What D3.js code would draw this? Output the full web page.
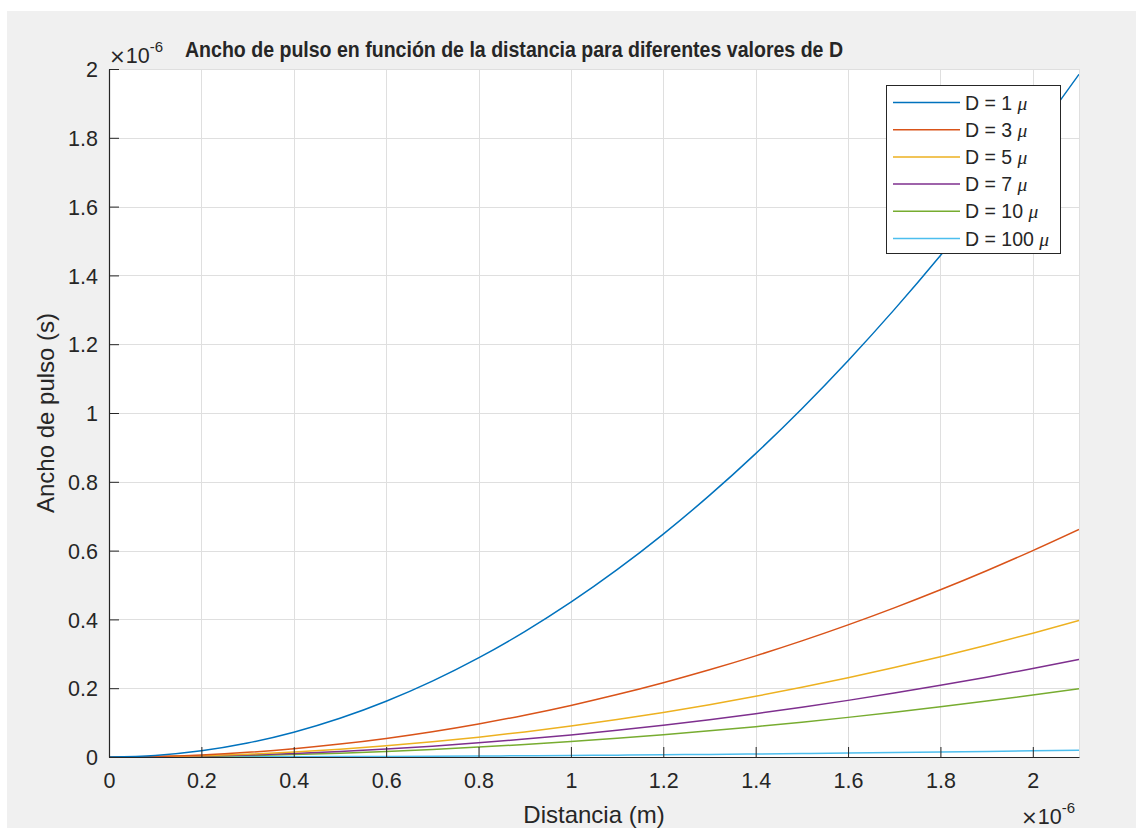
<!DOCTYPE html>
<html>
<head>
<meta charset="utf-8">
<script src="https://cdn.jsdelivr.net/npm/d3@7/dist/d3.min.js"></script>
<style>
  html, body { margin: 0; padding: 0; background: #ffffff; }
  svg { display: block; }
  text { font-family: "Liberation Sans", Arial, Helvetica, sans-serif; fill: #262626; }
</style>
</head>
<body>
<svg id="chart" width="1136" height="830"></svg>
<script>
// Distance samples (×1e-6 m)
const distance = [0, 0.1, 0.2, 0.3, 0.4, 0.5, 0.6, 0.7, 0.8, 0.9, 1.0,
                  1.1, 1.2, 1.3, 1.4, 1.5, 1.6, 1.7, 1.8, 1.9, 2.0, 2.1];

// Pulse width (×1e-6 s) for each dispersion value D
const widthD1   = [0, 0.0045, 0.018, 0.0405, 0.072, 0.1125, 0.162, 0.2205, 0.288, 0.3645, 0.45,
                   0.5445, 0.648, 0.7605, 0.882, 1.0125, 1.152, 1.3005, 1.458, 1.6245, 1.80, 1.9845];
const widthD3   = [0, 0.0015, 0.006, 0.0135, 0.024, 0.0375, 0.054, 0.0735, 0.096, 0.1215, 0.15,
                   0.1815, 0.216, 0.2535, 0.294, 0.3375, 0.384, 0.4335, 0.486, 0.5415, 0.60, 0.6615];
const widthD5   = [0, 0.0009, 0.0036, 0.0081, 0.0144, 0.0225, 0.0324, 0.0441, 0.0576, 0.0729, 0.09,
                   0.1089, 0.1296, 0.1521, 0.1764, 0.2025, 0.2304, 0.2601, 0.2916, 0.3249, 0.36, 0.3969];
const widthD7   = [0, 0.0006, 0.0026, 0.0058, 0.0103, 0.0161, 0.0231, 0.0315, 0.0411, 0.0521, 0.0643,
                   0.0778, 0.0926, 0.1086, 0.126, 0.1446, 0.1646, 0.1858, 0.2083, 0.2321, 0.2571, 0.2835];
const widthD10  = [0, 0.00045, 0.0018, 0.00405, 0.0072, 0.01125, 0.0162, 0.02205, 0.0288, 0.03645, 0.045,
                   0.05445, 0.0648, 0.07605, 0.0882, 0.10125, 0.1152, 0.13005, 0.1458, 0.16245, 0.18, 0.19845];
const widthD100 = [0, 0.000045, 0.00018, 0.000405, 0.00072, 0.001125, 0.00162, 0.002205, 0.00288, 0.003645, 0.0045,
                   0.005445, 0.00648, 0.007605, 0.00882, 0.010125, 0.01152, 0.013005, 0.01458, 0.016245, 0.018, 0.019845];

const seriesNames = ["D = 1", "D = 3", "D = 5", "D = 7", "D = 10", "D = 100"];
const seriesValues = [widthD1, widthD3, widthD5, widthD7, widthD10, widthD100];
const seriesColors = ["#0072BD", "#D95319", "#EDB120", "#7E2F8E", "#77AC30", "#4DBEEE"];

const xTicks = [0, 0.2, 0.4, 0.6, 0.8, 1, 1.2, 1.4, 1.6, 1.8, 2];
const yTicks = [0, 0.2, 0.4, 0.6, 0.8, 1, 1.2, 1.4, 1.6, 1.8, 2];

const titleText = "Ancho de pulso en función de la distancia para diferentes valores de D";
const xLabelText = "Distancia (m)";
const yLabelText = "Ancho de pulso (s)";

const svg = d3.select("#chart");

// figure background
svg.append("rect").attr("x", 7).attr("y", 11).attr("width", 1129).attr("height", 817)
  .attr("fill", "#f0f0f0");

const plot = { left: 109, top: 69, right: 1079, bottom: 757 };

const x = d3.scaleLinear().domain([0, 2.1]).range([plot.left, plot.right]);
const y = d3.scaleLinear().domain([0, 2]).range([plot.bottom, plot.top]);

// axes area
svg.append("rect")
  .attr("x", plot.left).attr("y", plot.top)
  .attr("width", plot.right - plot.left).attr("height", plot.bottom - plot.top)
  .attr("fill", "#ffffff");

// grid
const grid = svg.append("g").attr("stroke", "#dfdfdf").attr("stroke-width", 1);
grid.selectAll("line.gx").data(xTicks.concat([2.1])).join("line")
  .attr("x1", d => Math.round(x(d)) + 0.5).attr("x2", d => Math.round(x(d)) + 0.5)
  .attr("y1", plot.top).attr("y2", plot.bottom);
grid.selectAll("line.gy").data(yTicks).join("line")
  .attr("y1", d => Math.round(y(d)) + 0.5).attr("y2", d => Math.round(y(d)) + 0.5)
  .attr("x1", plot.left).attr("x2", plot.right);

// curves
svg.append("defs").append("clipPath").attr("id", "clip")
  .append("rect").attr("x", plot.left).attr("y", plot.top - 1)
  .attr("width", plot.right - plot.left).attr("height", plot.bottom - plot.top + 1);

const line = d3.line()
  .x((d, i) => x(distance[i]))
  .y(d => y(d))
  .curve(d3.curveMonotoneX);

const curves = svg.append("g").attr("clip-path", "url(#clip)");
seriesValues.slice().reverse().forEach((vals, k) => {
  const i = seriesValues.length - 1 - k;
  curves.append("path")
    .attr("d", line(vals))
    .attr("fill", "none")
    .attr("stroke", seriesColors[i])
    .attr("stroke-width", 1.5);
});

// axes
const fmt = d => d3.format("~g")(d);
const xAxis = d3.axisBottom(x).tickValues(xTicks).tickFormat(fmt).tickSizeInner(-10).tickSizeOuter(0);
const yAxis = d3.axisLeft(y).tickValues(yTicks).tickFormat(fmt).tickSizeInner(-10).tickSizeOuter(0);

const gx = svg.append("g").attr("transform", `translate(0,${plot.bottom})`).call(xAxis);
const gy = svg.append("g").attr("transform", `translate(${plot.left},0)`).call(yAxis);
[gx, gy].forEach(g => {
  g.select(".domain").attr("stroke", "#262626").attr("stroke-width", 1.2);
  g.selectAll(".tick line").attr("stroke", "#262626").attr("stroke-width", 1);
  g.selectAll(".tick text").attr("font-size", 21.5).attr("fill", "#262626")
    .attr("font-family", "'Liberation Sans', Arial, sans-serif");
});
gx.selectAll(".tick text").attr("dy", null).attr("y", 31);
gy.selectAll(".tick text").attr("x", -11).attr("dy", "0.36em");

// exponent labels
function exponent(xPos, yPos) {
  const t = svg.append("text").attr("x", xPos).attr("y", yPos).attr("font-size", 21.5);
  t.append("tspan").attr("font-family", "'DejaVu Sans', sans-serif").attr("font-size", 20).text("×");
  t.append("tspan").text("10");
  t.append("tspan").attr("font-size", 15).attr("dy", -11).text("-6");
}
exponent(109, 63);
exponent(1021, 824);

// title
svg.append("text")
  .attr("x", 185).attr("y", 57)
  .attr("font-size", 21.5).attr("font-weight", "bold").attr("fill", "#000000")
  .attr("textLength", 658).attr("lengthAdjust", "spacingAndGlyphs")
  .text(titleText);

// axis labels
svg.append("text")
  .attr("x", (plot.left + plot.right) / 2).attr("y", 823)
  .attr("text-anchor", "middle").attr("font-size", 24)
  .text(xLabelText);

svg.append("text")
  .attr("transform", `translate(54,${(plot.top + plot.bottom) / 2}) rotate(-90)`)
  .attr("text-anchor", "middle").attr("font-size", 24)
  .text(yLabelText);

// legend
const legend = svg.append("g");
legend.append("rect")
  .attr("x", 886.5).attr("y", 85.5).attr("width", 174).attr("height", 168)
  .attr("fill", "#ffffff").attr("stroke", "#262626").attr("stroke-width", 1);

const legendRow = d3.scaleLinear().domain([0, 5]).range([102.5, 238.5]);
seriesNames.forEach((name, i) => {
  const yy = legendRow(i);
  legend.append("line")
    .attr("x1", 893).attr("x2", 960).attr("y1", yy).attr("y2", yy)
    .attr("stroke", seriesColors[i]).attr("stroke-width", 1.5);
  const t = legend.append("text")
    .attr("x", 965).attr("y", yy).attr("dy", "0.36em").attr("font-size", 19.5);
  t.append("tspan").text(name + " ");
  t.append("tspan").attr("font-family", "'Liberation Serif', 'DejaVu Serif', serif")
    .attr("font-style", "italic").text("μ");
});
</script>
</body>
</html>
